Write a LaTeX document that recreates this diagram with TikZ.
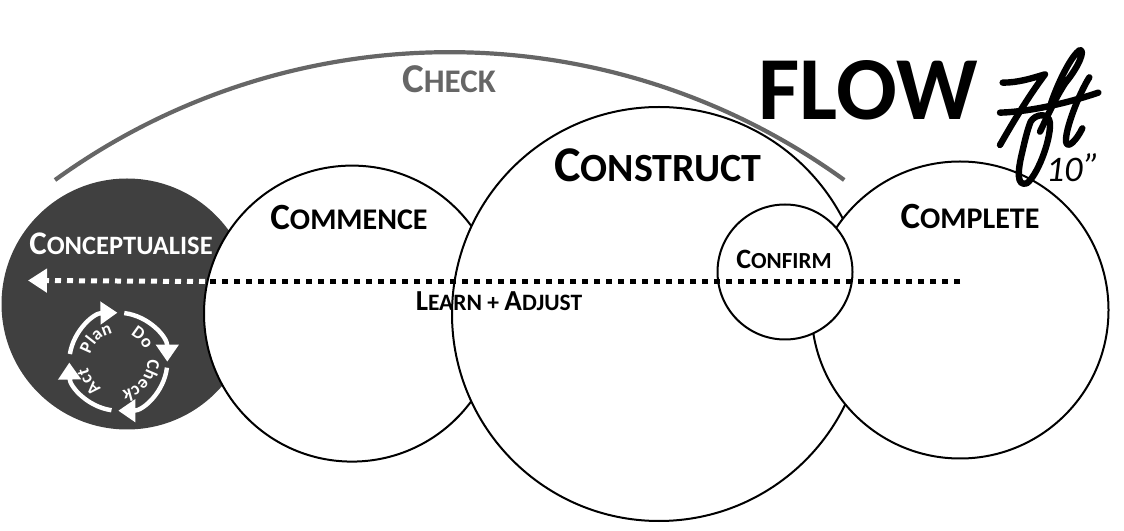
\documentclass[tikz,border=0pt]{standalone}
\usepackage{fontspec}
\setmainfont{Carlito}
\usetikzlibrary{arrows.meta,decorations.text}
% size of the big letter, size of the small ones, big letter, small letters
\newcommand{\capword}[4]{{\fontsize{#1}{#1}\selectfont #3\fontsize{#2}{#2}\selectfont #4}}
\definecolor{darkdisc}{HTML}{404040}
\definecolor{checkgrey}{HTML}{666666}
\tikzset{
  stage/.style={circle,draw=black,line width=2pt,fill=white,inner sep=0pt,outer sep=0pt},
  title/.style={font=\bfseries,inner sep=0pt},
  dotline/.style={line width=5pt,dash pattern=on 6pt off 6pt},
  cycle/.style={white,line width=4.4pt,-{Triangle[length=17pt,width=22pt]}},
  cycletext/.style={decorate,decoration={text along path,text align=center,
    text={|\color{white}\fontsize{18}{18}\selectfont\bfseries|#1}}},
  script/.style={line width=6.4pt,line cap=round,line join=round}
}
\begin{document}
\begin{tikzpicture}[x=1pt,y=1pt]
\useasboundingbox (0,0) rectangle (1124,530);
% discs, back to front
\node[circle,fill=darkdisc,inner sep=0pt,minimum size=251pt] (conceptualise) at (127,226){};
\node[stage,minimum size=296pt] (commence) at (352,216.4){};
\node[stage,minimum size=414pt] (construct) at (659,216){};
\node[stage,minimum size=297pt] (complete) at (960,220){};
\node[stage,minimum size=135pt] (confirm) at (785,258){};
% check arc
\coordinate (checkstart) at (55,350);
\draw[checkgrey,line width=4.2pt] (checkstart) arc[start angle=125.9,end angle=54.1,radius=673];
% learn and adjust line
\coordinate (linestart) at (960,248.5);
\coordinate (linemid) at (205,248.5);
\coordinate (lineend) at (28,249.5);
\draw[dotline] (linestart)--(linemid);
\draw[dotline,white,-{Triangle[length=19pt,width=23pt]}] (linemid)--(lineend);
% labels
\node[title,text=checkgrey] (checklabel) at (449,451){\capword{41}{33}{C}{HECK}};
\node[title] (constructlabel) at (658,365){\capword{50}{40}{C}{ONSTRUCT}};
\node[title] (commencelabel) at (349,313){\capword{37}{30}{C}{OMMENCE}};
\node[title] (completelabel) at (970,314){\capword{37}{30}{C}{OMPLETE}};
\node[title,text=white] (conceptlabel) at (121,286){\capword{33}{26.5}{C}{ONCEPTUALISE}};
\node[title] (confirmlabel) at (784,271){\capword{28}{23}{C}{ONFIRM}};
\node[title] (learnlabel) at (499,229){\capword{29}{23.5}{L}{EARN + }\capword{29}{23.5}{A}{DJUST}};
\node[title] (flowlabel) at (868,440){\fontsize{90}{90}\selectfont FLOW};
% plan do check act
\coordinate (cyclemid) at (118.3,168.3);
\draw[cycle] (cyclemid)++(171:49) arc[start angle=171,end angle=91,radius=49];
\draw[cycle] (cyclemid)++(83:49) arc[start angle=83,end angle=0,radius=49];
\draw[cycle] (cyclemid)++(-7:49) arc[start angle=-7,end angle=-90,radius=49];
\draw[cycle] (cyclemid)++(-98:49) arc[start angle=-98,end angle=-179,radius=49];
\path[cycletext=Plan] (cyclemid)++(178:29) arc[start angle=178,end angle=88,radius=29];
\path[cycletext=Do] (cyclemid)++(90:29) arc[start angle=90,end angle=0,radius=29];
\path[cycletext=Check] (cyclemid)++(6:29) arc[start angle=6,end angle=-84,radius=29];
\path[cycletext=Act] (cyclemid)++(-101:31) arc[start angle=-101,end angle=-191,radius=31];
% the hand written height
\begin{scope}[shift={(990,490)},x=0.3333pt,y=-0.3333pt]
\draw[script] (38,128) .. controls (85,128) and (125,115) .. (165,103) .. controls (115,170) and (70,245) .. (30,315);
\draw[script] (30,218) .. controls (120,215) and (230,190) .. (325,158);
\draw[script] (183,190) .. controls (205,125) and (245,45) .. (270,30) .. controls (285,30) and (270,75) .. (225,130) .. controls (190,185) and (170,235) .. (150,275);
\draw[script] (122,245) .. controls (135,222) and (178,215) .. (180,250) .. controls (182,305) and (140,410) .. (110,430) .. controls (80,440) and (82,395) .. (97,335) .. controls (105,300) and (112,270) .. (122,245);
\draw[script] (298,112) .. controls (265,165) and (225,270) .. (228,305) .. controls (232,330) and (260,300) .. (277,265);
\end{scope}
\node[inner sep=0pt,font=\itshape\fontsize{36}{36}\selectfont] (heightlabel) at (1073,362){10\raisebox{3pt}{\kern2pt\symbol{34}}};
\end{tikzpicture}
\end{document}
